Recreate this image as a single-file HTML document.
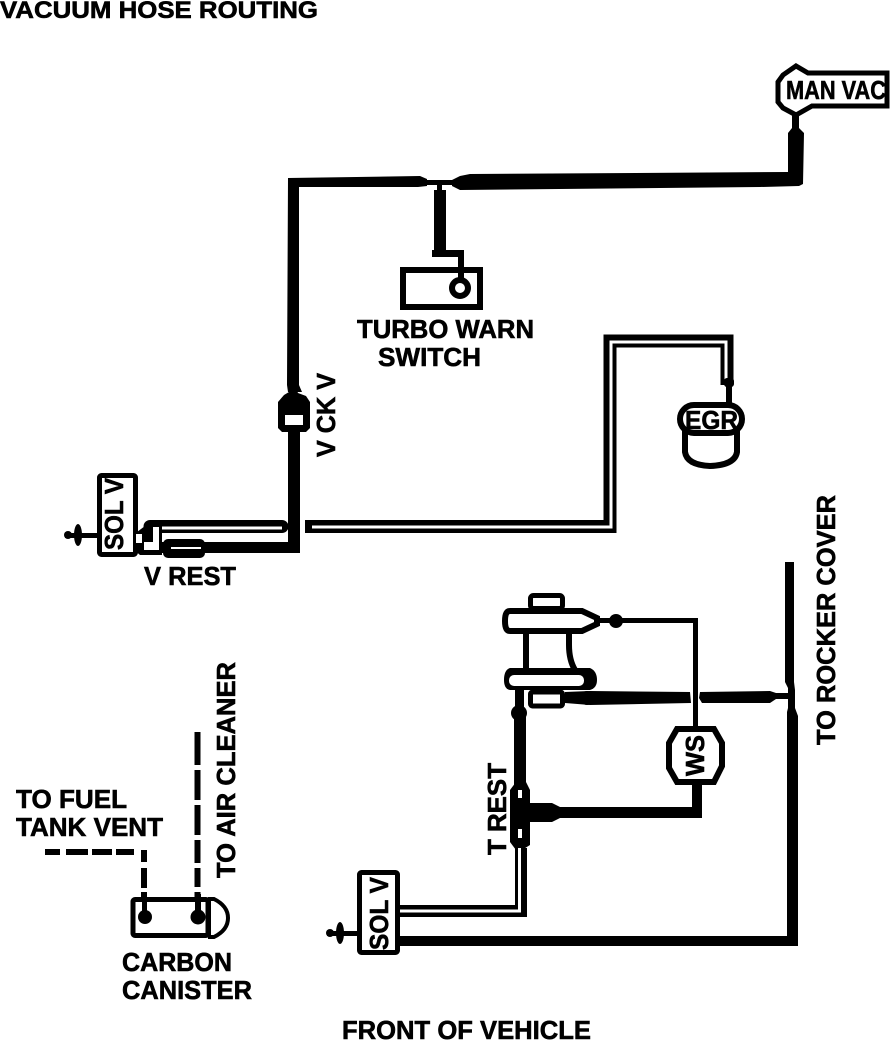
<!DOCTYPE html>
<html>
<head>
<meta charset="utf-8">
<title>Vacuum Hose Routing</title>
<style>
html,body{margin:0;padding:0;background:#fff}
svg{display:block}
text{font-family:"Liberation Sans",sans-serif;font-weight:bold;fill:#000;stroke:#000;stroke-width:.6px}
</style>
</head>
<body>
<svg width="896" height="1042" viewBox="0 0 896 1042" xmlns="http://www.w3.org/2000/svg">
<rect width="896" height="1042" fill="#fff"/>

<!-- Main top line -->
<g fill="#000" stroke="none">
  <polygon points="788,133 792,128 799,128 804,133 803,184 799,186 760,187 460,190 452,186 452,180 460,176 470,174 788,172"/>
  <rect x="792" y="112" width="7" height="20"/>
  <polygon points="288,178 420,176 427,179 427,186 418,187 299,187 299,385 302,392 288,392 287,385"/>
  <rect x="420" y="180" width="36" height="5"/>
  <rect x="434" y="190" width="12" height="60"/>
  <rect x="437" y="183" width="5" height="8"/>
  <rect x="432" y="250" width="32" height="7"/>
  <rect x="458" y="250" width="6" height="36"/>
  <!-- Check valve -->
  <path d="M293,382 L298,393 L306,396 L310,402 L310,428 L306,432 L282,432 L278,428 L278,402 L284,395 L289,392 Z"/>
  <rect x="288" y="432" width="12" height="120"/>
  <rect x="160" y="542" width="140" height="11"/>
  <rect x="163" y="539" width="42" height="19" rx="5"/>
</g>
<rect x="285" y="415" width="18" height="10" fill="#fff"/>
<rect x="171" y="547" width="30" height="2" fill="#fff"/>

<!-- Turbo warn switch -->
<rect x="403" y="270" width="77" height="37" fill="none" stroke="#000" stroke-width="6"/>
<circle cx="460" cy="288" r="8" fill="#fff" stroke="#000" stroke-width="6"/>
<circle cx="460" cy="288" r="2" fill="#fff"/>
<text x="357" y="338" font-size="26" textLength="177" lengthAdjust="spacingAndGlyphs">TURBO WARN</text>
<text x="378" y="366" font-size="26" textLength="103" lengthAdjust="spacingAndGlyphs">SWITCH</text>

<!-- MAN VAC -->
<path d="M778,82 L783,75 L796,66 L808,73 L887,73 L887,106 L812,106 L796,115 L783,108 L778,102 Z" fill="#fff" stroke="#000" stroke-width="5"/>
<text x="786" y="99" font-size="26" textLength="100" lengthAdjust="spacingAndGlyphs">MAN VAC</text>

<!-- Title -->
<text x="0" y="18" font-size="24" textLength="318" lengthAdjust="spacingAndGlyphs">VACUUM HOSE ROUTING</text>

<!-- V CK V -->
<text transform="translate(335,457) rotate(-90)" font-size="26" textLength="84" lengthAdjust="spacingAndGlyphs">V CK V</text>

<!-- Upper Sol V -->
<rect x="99.500" y="475.500" width="36" height="79" rx="2" fill="#fff" stroke="#000" stroke-width="5"/>
<text transform="translate(123,550) rotate(-90)" font-size="26" textLength="72" lengthAdjust="spacingAndGlyphs">SOL V</text>
<rect x="65" y="533" width="33" height="5" fill="#000"/>
<ellipse cx="78" cy="535" rx="4" ry="11" fill="#000"/>
<ellipse cx="68" cy="535" rx="4" ry="4" fill="#000"/>

<!-- V rest hose -->
<path d="M150,526.500 H282" fill="none" stroke="#000" stroke-width="13" stroke-linecap="round"/>
<path d="M160,528 H282" fill="none" stroke="#fff" stroke-width="3"/>
<!-- V rest connector -->
<path d="M133,535 L145,526 L149,521 H162 V555 H140 L133,549 Z" fill="#000"/>
<path d="M153,527 H159 V550 H144 V542 H153 Z" fill="#fff"/>
<rect x="136" y="534" width="6" height="9" fill="#fff"/>
<text x="144" y="585" font-size="26" textLength="92" lengthAdjust="spacingAndGlyphs">V REST</text>

<!-- EGR hose -->
<path d="M305,526.500 H610 V341 H727 V385" fill="none" stroke="#000" stroke-width="13"/>
<path d="M312,527 H611 V342 H726 V382" fill="none" stroke="#fff" stroke-width="3"/>
<rect x="724" y="378" width="10" height="9" rx="3" fill="#000"/>
<rect x="726" y="385" width="6" height="18" fill="#000"/>

<!-- EGR -->
<path d="M685,430 V452 Q687,465 710,466 Q735,465 737,452 V430" fill="#fff" stroke="#000" stroke-width="6"/>
<rect x="680" y="405" width="62" height="28" rx="14" fill="#fff" stroke="#000" stroke-width="6"/>
<text x="685" y="429" font-size="26" textLength="53" lengthAdjust="spacingAndGlyphs">EGR</text>

<!-- Vacuum T bottom right -->
<rect x="530.500" y="595.500" width="32" height="13" rx="3" fill="#fff" stroke="#000" stroke-width="5"/>
<rect x="523" y="630" width="6" height="42" fill="#000"/>
<path d="M569,630 V645 Q569,660 575,670" fill="none" stroke="#000" stroke-width="6"/>
<path d="M510,611 H582 L597,618 L597,624 L582,631 H510 Q505,631 505,621 Q505,611 510,611 Z" fill="#fff" stroke="#000" stroke-width="6"/>
<path d="M510,668 H590 Q597,671 597,680 Q597,688 590,690 H510 Q504,689 504,680 Q504,670 510,668 Z" fill="#000"/>
<rect x="509" y="675" width="75" height="11" rx="5" fill="#fff"/>
<rect x="530.500" y="692" width="32" height="14" rx="2" fill="#fff" stroke="#000" stroke-width="5"/>

<!-- Lines in T area -->
<g fill="#000">
  <rect x="595" y="618" width="100" height="5"/>
  <circle cx="616" cy="621" r="7"/>
  <rect x="693" y="618" width="5" height="110"/>
  <polygon points="565,692 590,691 690,692 691,703 590,705 565,703"/>
  <circle cx="587" cy="698" r="7"/>
  <polygon points="700,692 770,691 776,693 790,693 790,699 776,699 770,703 702,703 699,698"/>
  <polygon points="785,562 794,562 794,682 795,690 795,708 798,716 798,945 787,945 787,712 788,708 788,688 785,682"/>
  <rect x="515" y="690" width="9" height="24"/>
  <circle cx="519" cy="713" r="8"/>
  <rect x="514" y="713" width="12" height="72"/>
  <path d="M516,782 Q520,778 526,782 L530,790 V845 L522,850 H516 L510,842 V790 Z"/>
  <path d="M528,803 H552 L560,807 H702 V818 H560 L552,822 H528 Z"/>
  <rect x="692" y="783" width="10" height="35"/>
</g>
<rect x="518" y="790" width="4" height="8" fill="#fff"/>
<rect x="518" y="829" width="4" height="9" fill="#fff"/>
<path d="M400,911 H521 V848" fill="none" stroke="#000" stroke-width="12"/>
<path d="M400,911 H519.500 V848" fill="none" stroke="#fff" stroke-width="3"/>
<rect x="400" y="936" width="398" height="10" fill="#000"/>

<!-- WS -->
<path d="M677,729 H714 L722,743 V766 L714,782 H677 L669,768 V743 Z" fill="#fff" stroke="#000" stroke-width="6"/>
<text transform="translate(704,776) rotate(-90)" font-size="26" textLength="41" lengthAdjust="spacingAndGlyphs">WS</text>

<!-- T REST -->
<text transform="translate(506,855) rotate(-90)" font-size="26" textLength="92" lengthAdjust="spacingAndGlyphs">T REST</text>

<!-- Lower Sol V -->
<rect x="359.500" y="872.500" width="38" height="80" rx="2" fill="#fff" stroke="#000" stroke-width="5"/>
<text transform="translate(388,950) rotate(-90)" font-size="26" textLength="73" lengthAdjust="spacingAndGlyphs">SOL V</text>
<rect x="327" y="931" width="31" height="5" fill="#000"/>
<ellipse cx="340" cy="933" rx="4" ry="11" fill="#000"/>
<ellipse cx="330" cy="933" rx="4" ry="4" fill="#000"/>

<!-- TO ROCKER COVER -->
<text transform="translate(835,745) rotate(-90)" font-size="26" textLength="250" lengthAdjust="spacingAndGlyphs">TO ROCKER COVER</text>
<!-- TO AIR CLEANER -->
<text transform="translate(235,878) rotate(-90)" font-size="26" textLength="216" lengthAdjust="spacingAndGlyphs">TO AIR CLEANER</text>

<!-- Canister hoses -->
<g fill="none" stroke="#000" stroke-width="6">
  <path d="M45,852 H60 M66,852 H88 M92,852 H112 M116,852 H134" />
  <path d="M144,850 V862 M144,868 V888 M144,892 V904" />
  <path d="M197.500,732 V765 M197.500,770 V800 M197.500,805 V835 M197.500,840 V863 M197.500,868 V887 M197.500,892 V904" />
</g>

<!-- Canister -->
<path d="M208,899 H214 Q228,906 228,918 Q228,930 214,937 H208" fill="#fff" stroke="#000" stroke-width="4"/>
<rect x="133" y="899.500" width="75" height="36" rx="2" fill="#fff" stroke="#000" stroke-width="5"/>
<rect x="206" y="899" width="5" height="38" fill="#000"/>
<rect x="142" y="897" width="5" height="15" fill="#000"/>
<rect x="195" y="894" width="6" height="18" fill="#000"/>
<circle cx="145" cy="917" r="7" fill="#000"/>
<circle cx="198" cy="917" r="7.500" fill="#000"/>

<!-- Labels -->
<text x="16" y="808" font-size="26" textLength="111" lengthAdjust="spacingAndGlyphs">TO FUEL</text>
<text x="16" y="836" font-size="26" textLength="147" lengthAdjust="spacingAndGlyphs">TANK VENT</text>
<text x="122" y="971" font-size="26" textLength="110" lengthAdjust="spacingAndGlyphs">CARBON</text>
<text x="122" y="999" font-size="26" textLength="130" lengthAdjust="spacingAndGlyphs">CANISTER</text>
<text x="342" y="1039" font-size="26" textLength="249" lengthAdjust="spacingAndGlyphs">FRONT OF VEHICLE</text>
</svg>
</body>
</html>
